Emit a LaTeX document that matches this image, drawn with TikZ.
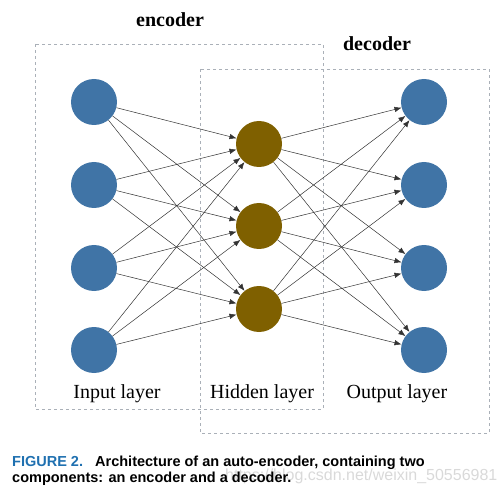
\documentclass[tikz,border=0pt]{standalone}
\usepackage{fontspec}
\setmainfont{Liberation Serif}
\newfontfamily\capfont{Liberation Sans}
\usetikzlibrary{arrows.meta}
\definecolor{inblue}{RGB}{64,116,166}
\definecolor{hidbrown}{RGB}{127,96,0}
\definecolor{figblue}{RGB}{31,112,176}
\definecolor{boxgray}{RGB}{170,176,184}
\tikzset{
    neuron/.style={circle, minimum size=46pt, inner sep=0pt},
    innode/.style={neuron, fill=inblue},
    hidnode/.style={neuron, fill=hidbrown},
    conn/.style={draw=black!80, line width=0.5pt, -{Latex[length=7pt,width=5.5pt]}},
    part/.style={draw=boxgray, dashed, line width=0.5pt},
    layername/.style={anchor=base, font=\fontsize{20}{24}\selectfont},
    partname/.style={anchor=base, font=\fontsize{20}{24}\selectfont\bfseries},
    captext/.style={anchor=base west, inner sep=0pt, font=\capfont\bfseries\fontsize{14.5}{17}\selectfont}
}
\begin{document}
\begin{tikzpicture}[x=1pt, y=-1pt]
        \useasboundingbox (0,0) rectangle (504,492);
        \draw[part] (35,44) rectangle (323,409);
        \draw[part] (200,69) rectangle (489,433);
        \node[partname] (enc) at (170,27) {encoder};
        \node[partname] (dec) at (377,51) {decoder};
        \foreach \i/\y in {1/102, 2/185, 3/268, 4/350} {
            \node[innode] (in\i) at (94,\y) {};
            \node[innode] (out\i) at (424,\y) {};
        }
        \foreach \j/\y in {1/144, 2/226, 3/309}
            \node[hidnode] (hid\j) at (259,\y) {};
        \foreach \i in {1,...,4}
            \foreach \j in {1,2,3} {
                \draw[conn] (in\i) -- (hid\j);
                \draw[conn] (hid\j) -- (out\i);
            }
        \node[layername] (inlbl) at (117,398) {Input layer};
        \node[layername] (hidlbl) at (262,398) {Hidden layer};
        \node[layername] (outlbl) at (397,398) {Output layer};
        \node[anchor=base west, inner sep=0pt, text=black!15, font=\capfont\fontsize{16}{18}\selectfont] (mark) at (225,480) {https://blog.csdn.net/weixin\_50556981};
        \node[captext, text=figblue] (fig) at (12,466) {FIGURE 2.};
        \node[captext] (cap1) at (95,466) {Architecture of an auto-encoder, containing two};
        \node[captext] (cap2) at (12,482) {components: an encoder and a decoder.};
    \end{tikzpicture}
\end{document}
